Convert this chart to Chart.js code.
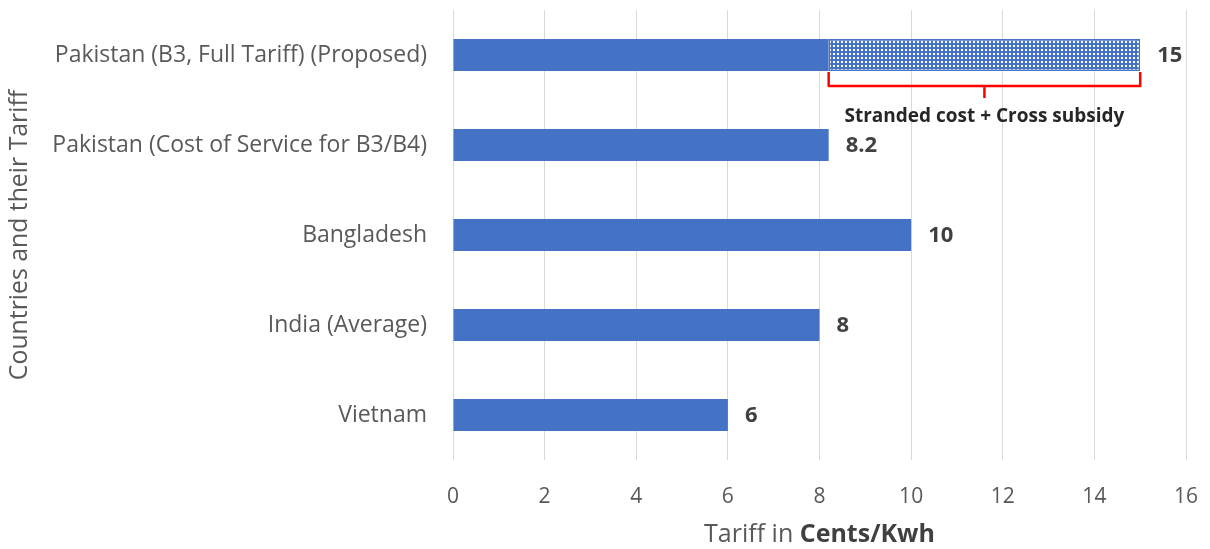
<!DOCTYPE html>
<html>
<head>
<meta charset="utf-8">
<script src="https://cdn.jsdelivr.net/npm/chart.js@4/dist/chart.umd.min.js"></script>
<style>
  html, body { margin: 0; padding: 0; background: #ffffff; }
  #wrap { width: 1210px; height: 549px; }
</style>
</head>
<body>
<div id="wrap"><canvas id="chart" width="1210" height="549"></canvas></div>
<script>
// Tariff comparison (US cents per kWh)
const categories = [
  'Pakistan (B3, Full Tariff) (Proposed)',
  'Pakistan (Cost of Service for B3/B4)',
  'Bangladesh',
  'India (Average)',
  'Vietnam'
];
const baseTariff = [8.2, 8.2, 10, 8, 6];
const strandedAndSubsidy = [6.8, null, null, null, null];
const xTicks = [0, 2, 4, 6, 8, 10, 12, 14, 16];
const bracketLabel = 'Stranded cost + Cross subsidy';

const FONT = '"Open Sans", Lato, sans-serif';
const BLUE = '#4472C4';
const GREY = '#595959';

// small dotted pattern for the stranded-cost segment
function dotPattern() {
  const c = document.createElement('canvas');
  c.width = 4; c.height = 4;
  const g = c.getContext('2d');
  g.fillStyle = BLUE;
  g.fillRect(0, 0, 4, 4);
  g.fillStyle = '#ffffff';
  g.fillRect(1, 1, 2, 2);
  return g.createPattern(c, 'repeat');
}

const overlay = {
  id: 'overlay',
  afterDatasetsDraw(chart) {
    const { ctx, scales: { x, y } } = chart;
    ctx.save();

    // value labels at the end of each bar
    ctx.font = 'bold 22px ' + FONT;
    ctx.fillStyle = '#404040';
    ctx.textAlign = 'left';
    ctx.textBaseline = 'middle';
    categories.forEach((c, i) => {
      const total = baseTariff[i] + (strandedAndSubsidy[i] || 0);
      const px = x.getPixelForValue(total);
      const py = y.getPixelForValue(i);
      const txt = String(Math.round(total * 10) / 10);
      ctx.fillText(txt, px + 17, py + 1);
    });

    // bracket under the stranded-cost segment
    const meta = chart.getDatasetMeta(1).data[0];
    const x0 = x.getPixelForValue(baseTariff[0]);
    const x1 = x.getPixelForValue(baseTariff[0] + strandedAndSubsidy[0]);
    const yTop = meta.y + meta.height / 2 + 1;
    const yMid = yTop + 14;
    const xc = (x0 + x1) / 2;
    ctx.strokeStyle = '#FF0000';
    ctx.lineWidth = 2.5;
    ctx.lineJoin = 'round';
    ctx.beginPath();
    ctx.moveTo(x0, yTop);
    ctx.lineTo(x0, yMid);
    ctx.lineTo(x1, yMid);
    ctx.lineTo(x1, yTop);
    ctx.moveTo(xc, yMid);
    ctx.lineTo(xc, yMid + 12);
    ctx.stroke();

    ctx.font = 'bold 19px ' + FONT;
    ctx.fillStyle = '#262626';
    ctx.textAlign = 'center';
    ctx.fillText(bracketLabel, xc, yMid + 31);

    // x-axis title with bold unit
    const partA = 'Tariff in ';
    const partB = 'Cents/Kwh';
    ctx.font = '25px ' + FONT;
    const wA = ctx.measureText(partA).width;
    ctx.font = 'bold 25px ' + FONT;
    const wB = ctx.measureText(partB).width;
    const cx = (x.left + x.right) / 2;
    const start = cx - (wA + wB) / 2;
    const ty = 535;
    ctx.textAlign = 'left';
    ctx.fillStyle = GREY;
    ctx.font = '25px ' + FONT;
    ctx.fillText(partA, start, ty);
    ctx.fillStyle = '#404040';
    ctx.font = 'bold 25px ' + FONT;
    ctx.fillText(partB, start + wA, ty);

    ctx.restore();
  }
};

new Chart(document.getElementById('chart'), {
  type: 'bar',
  data: {
    labels: categories,
    datasets: [
      {
        label: 'Tariff',
        data: baseTariff,
        backgroundColor: BLUE,
        borderWidth: 0,
        barPercentage: 0.356,
        categoryPercentage: 1
      },
      {
        label: 'Stranded cost + Cross subsidy',
        data: strandedAndSubsidy,
        backgroundColor: dotPattern(),
        borderColor: BLUE,
        borderWidth: 1.5,
        borderSkipped: false,
        barPercentage: 0.356,
        categoryPercentage: 1
      }
    ]
  },
  plugins: [overlay],
  options: {
    indexAxis: 'y',
    responsive: false,
    animation: false,
    layout: { padding: { top: 10, right: 24, left: 0, bottom: 0 } },
    plugins: {
      legend: { display: false },
      tooltip: { enabled: false }
    },
    scales: {
      x: {
        stacked: true,
        min: 0,
        max: 16,
        afterBuildTicks: s => { s.ticks = xTicks.map(v => ({ value: v })); },
        afterFit: s => { s.height = 89; s.paddingLeft = 0; s.paddingRight = 0; },
        grid: { color: '#d9d9d9', lineWidth: 1, drawTicks: false },
        border: { display: false },
        ticks: {
          padding: 24,
          color: GREY,
          font: { family: FONT, size: 21 }
        }
      },
      y: {
        stacked: true,
        afterFit: s => { s.width = 453; s.paddingTop = 0; s.paddingBottom = 0; },
        grid: { display: false },
        border: { display: false },
        ticks: {
          padding: 18,
          color: GREY,
          font: { family: FONT, size: 23 }
        },
        title: {
          display: true,
          text: 'Countries and their Tariff',
          color: GREY,
          font: { family: FONT, size: 24.8 },
          padding: { top: 5, bottom: 0 }
        }
      }
    }
  }
});
</script>
</body>
</html>
